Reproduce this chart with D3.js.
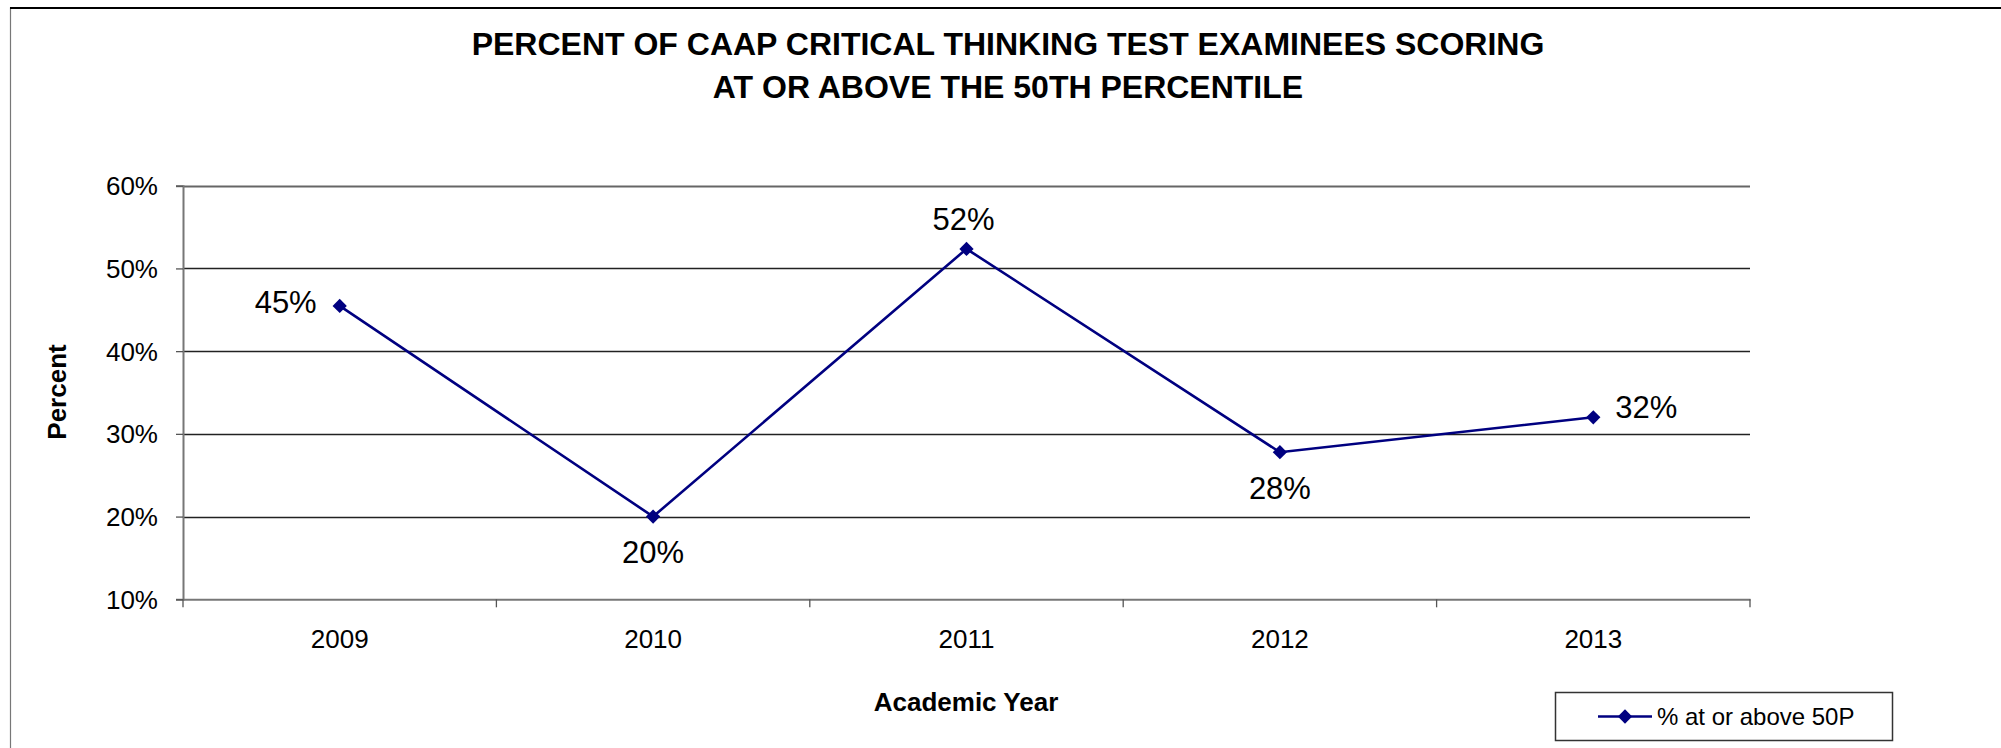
<!DOCTYPE html>
<html><head><meta charset="utf-8">
<script src="https://cdn.jsdelivr.net/npm/d3@7"></script>
<style>
html,body{margin:0;padding:0;background:#fff;}
svg{display:block;font-family:"Liberation Sans",Arial,sans-serif;}
</style></head>
<body>
<svg id="chart" width="2001" height="748"></svg>
<script>
const titleLines = ["PERCENT OF CAAP CRITICAL THINKING TEST EXAMINEES SCORING", "AT OR ABOVE THE 50TH PERCENTILE"];
const years = ["2009", "2010", "2011", "2012", "2013"];
const values = [0.4547, 0.2000, 0.5236, 0.2778, 0.3200];
const labels = ["45%", "20%", "52%", "28%", "32%"];
const labelPos = ["left", "below", "above", "below", "right"];
const yTicks = [0.1, 0.2, 0.3, 0.4, 0.5, 0.6];
const seriesName = "% at or above 50P";
const xTitle = "Academic Year";
const yTitle = "Percent";

const svg = d3.select("#chart");
const navy = "#000080";

// outer chart border (extends beyond right/bottom edge)
svg.append("rect").attr("x", 10.5).attr("y", 8).attr("width", 2100).attr("height", 800)
  .attr("fill", "none").attr("stroke", "#777").attr("stroke-width", 1.2);
svg.append("line").attr("x1", 10).attr("x2", 2001).attr("y1", 8).attr("y2", 8)
  .attr("stroke", "#000").attr("stroke-width", 2);

// title
svg.append("text").attr("x", 1008).attr("y", 44).attr("text-anchor", "middle")
  .attr("font-size", 32).attr("font-weight", "bold").attr("dominant-baseline", "central")
  .selectAll("tspan").data(titleLines).join("tspan")
  .attr("x", 1008).attr("dy", (d, i) => i === 0 ? 0 : 43).text(d => d);

const x0 = 183, x1 = 1750, yTop = 185.7, yBot = 599.3;
const x = d3.scaleBand().domain(years).range([x0, x1]);
const y = d3.scaleLinear().domain([0.1, 0.6]).range([yBot, yTop]);

// gridlines
svg.append("g").selectAll("line").data(yTicks.filter(t => t > 0.1)).join("line")
  .attr("x1", x0).attr("x2", x1)
  .attr("y1", d => Math.round(y(d)) + 0.5).attr("y2", d => Math.round(y(d)) + 0.5)
  .attr("stroke", d => d === 0.6 ? "#666" : "#222").attr("stroke-width", d => d === 0.6 ? 1.8 : 1.3);

// y axis
const yAxis = d3.axisLeft(y).tickValues(yTicks).tickFormat(d3.format(".0%")).tickSize(7).tickPadding(18);
const gy = svg.append("g").attr("transform", `translate(${x0},0)`).call(yAxis);
gy.select(".domain").attr("stroke", "#777").attr("stroke-width", 2);
gy.selectAll(".tick line").attr("stroke", "#555").attr("stroke-width", 1.3);
gy.selectAll(".tick text").attr("font-size", 26).attr("fill", "#000")
  .attr("font-family", "Liberation Sans, Arial, sans-serif").attr("dy", "0.35em");

// x axis
const xAxis = d3.axisBottom(x).tickSize(0).tickPadding(30);
const gx = svg.append("g").attr("transform", `translate(0,${yBot})`).call(xAxis);
gx.select(".domain").attr("stroke", "#777").attr("stroke-width", 2);
gx.selectAll(".tick text").attr("font-size", 26).attr("fill", "#000")
  .attr("font-family", "Liberation Sans, Arial, sans-serif");
// boundary tick marks
const bounds = years.map(d => x(d)).concat([x1]);
svg.append("g").selectAll("line").data(bounds).join("line")
  .attr("x1", d => d).attr("x2", d => d).attr("y1", yBot).attr("y2", yBot + 8)
  .attr("stroke", "#555").attr("stroke-width", 1.3);

// axis titles
svg.append("text").attr("x", 966).attr("y", 702).attr("text-anchor", "middle")
  .attr("dominant-baseline", "central").attr("font-size", 26).attr("font-weight", "bold").text(xTitle);
svg.append("text").attr("transform", "translate(57,392) rotate(-90)").attr("text-anchor", "middle")
  .attr("dominant-baseline", "central").attr("font-size", 26).attr("font-weight", "bold").text(yTitle);

// line
const cx = d => x(d) + x.bandwidth() / 2;
const pts = years.map((d, i) => [cx(d), y(values[i])]);
svg.append("path").attr("d", d3.line()(pts)).attr("fill", "none")
  .attr("stroke", navy).attr("stroke-width", 2.6);
const diamond = d3.symbol().type(d3.symbolDiamond2).size(130);
svg.append("g").selectAll("path").data(pts).join("path")
  .attr("transform", d => `translate(${d[0]},${d[1]})`)
  .attr("d", diamond).attr("fill", navy);

// data labels
const off = {left: [-23, -3, "end"], right: [22, -10, "start"], above: [-3, -29, "middle"], below: [0, 36, "middle"]};
svg.append("g").selectAll("text").data(pts).join("text")
  .attr("x", (d, i) => d[0] + off[labelPos[i]][0])
  .attr("y", (d, i) => d[1] + off[labelPos[i]][1])
  .attr("text-anchor", (d, i) => off[labelPos[i]][2])
  .attr("dominant-baseline", "central").attr("font-size", 31).text((d, i) => labels[i]);

// legend
const lg = svg.append("g");
lg.append("rect").attr("x", 1555.5).attr("y", 692.5).attr("width", 337).attr("height", 48)
  .attr("fill", "#fff").attr("stroke", "#333").attr("stroke-width", 1.5);
lg.append("line").attr("x1", 1598).attr("x2", 1652).attr("y1", 716.5).attr("y2", 716.5)
  .attr("stroke", navy).attr("stroke-width", 2.6);
lg.append("path").attr("transform", "translate(1625,716.5)").attr("d", diamond).attr("fill", navy);
lg.append("text").attr("x", 1657).attr("y", 716.5).attr("dominant-baseline", "central")
  .attr("font-size", 24).text(seriesName);
</script>
</body></html>
